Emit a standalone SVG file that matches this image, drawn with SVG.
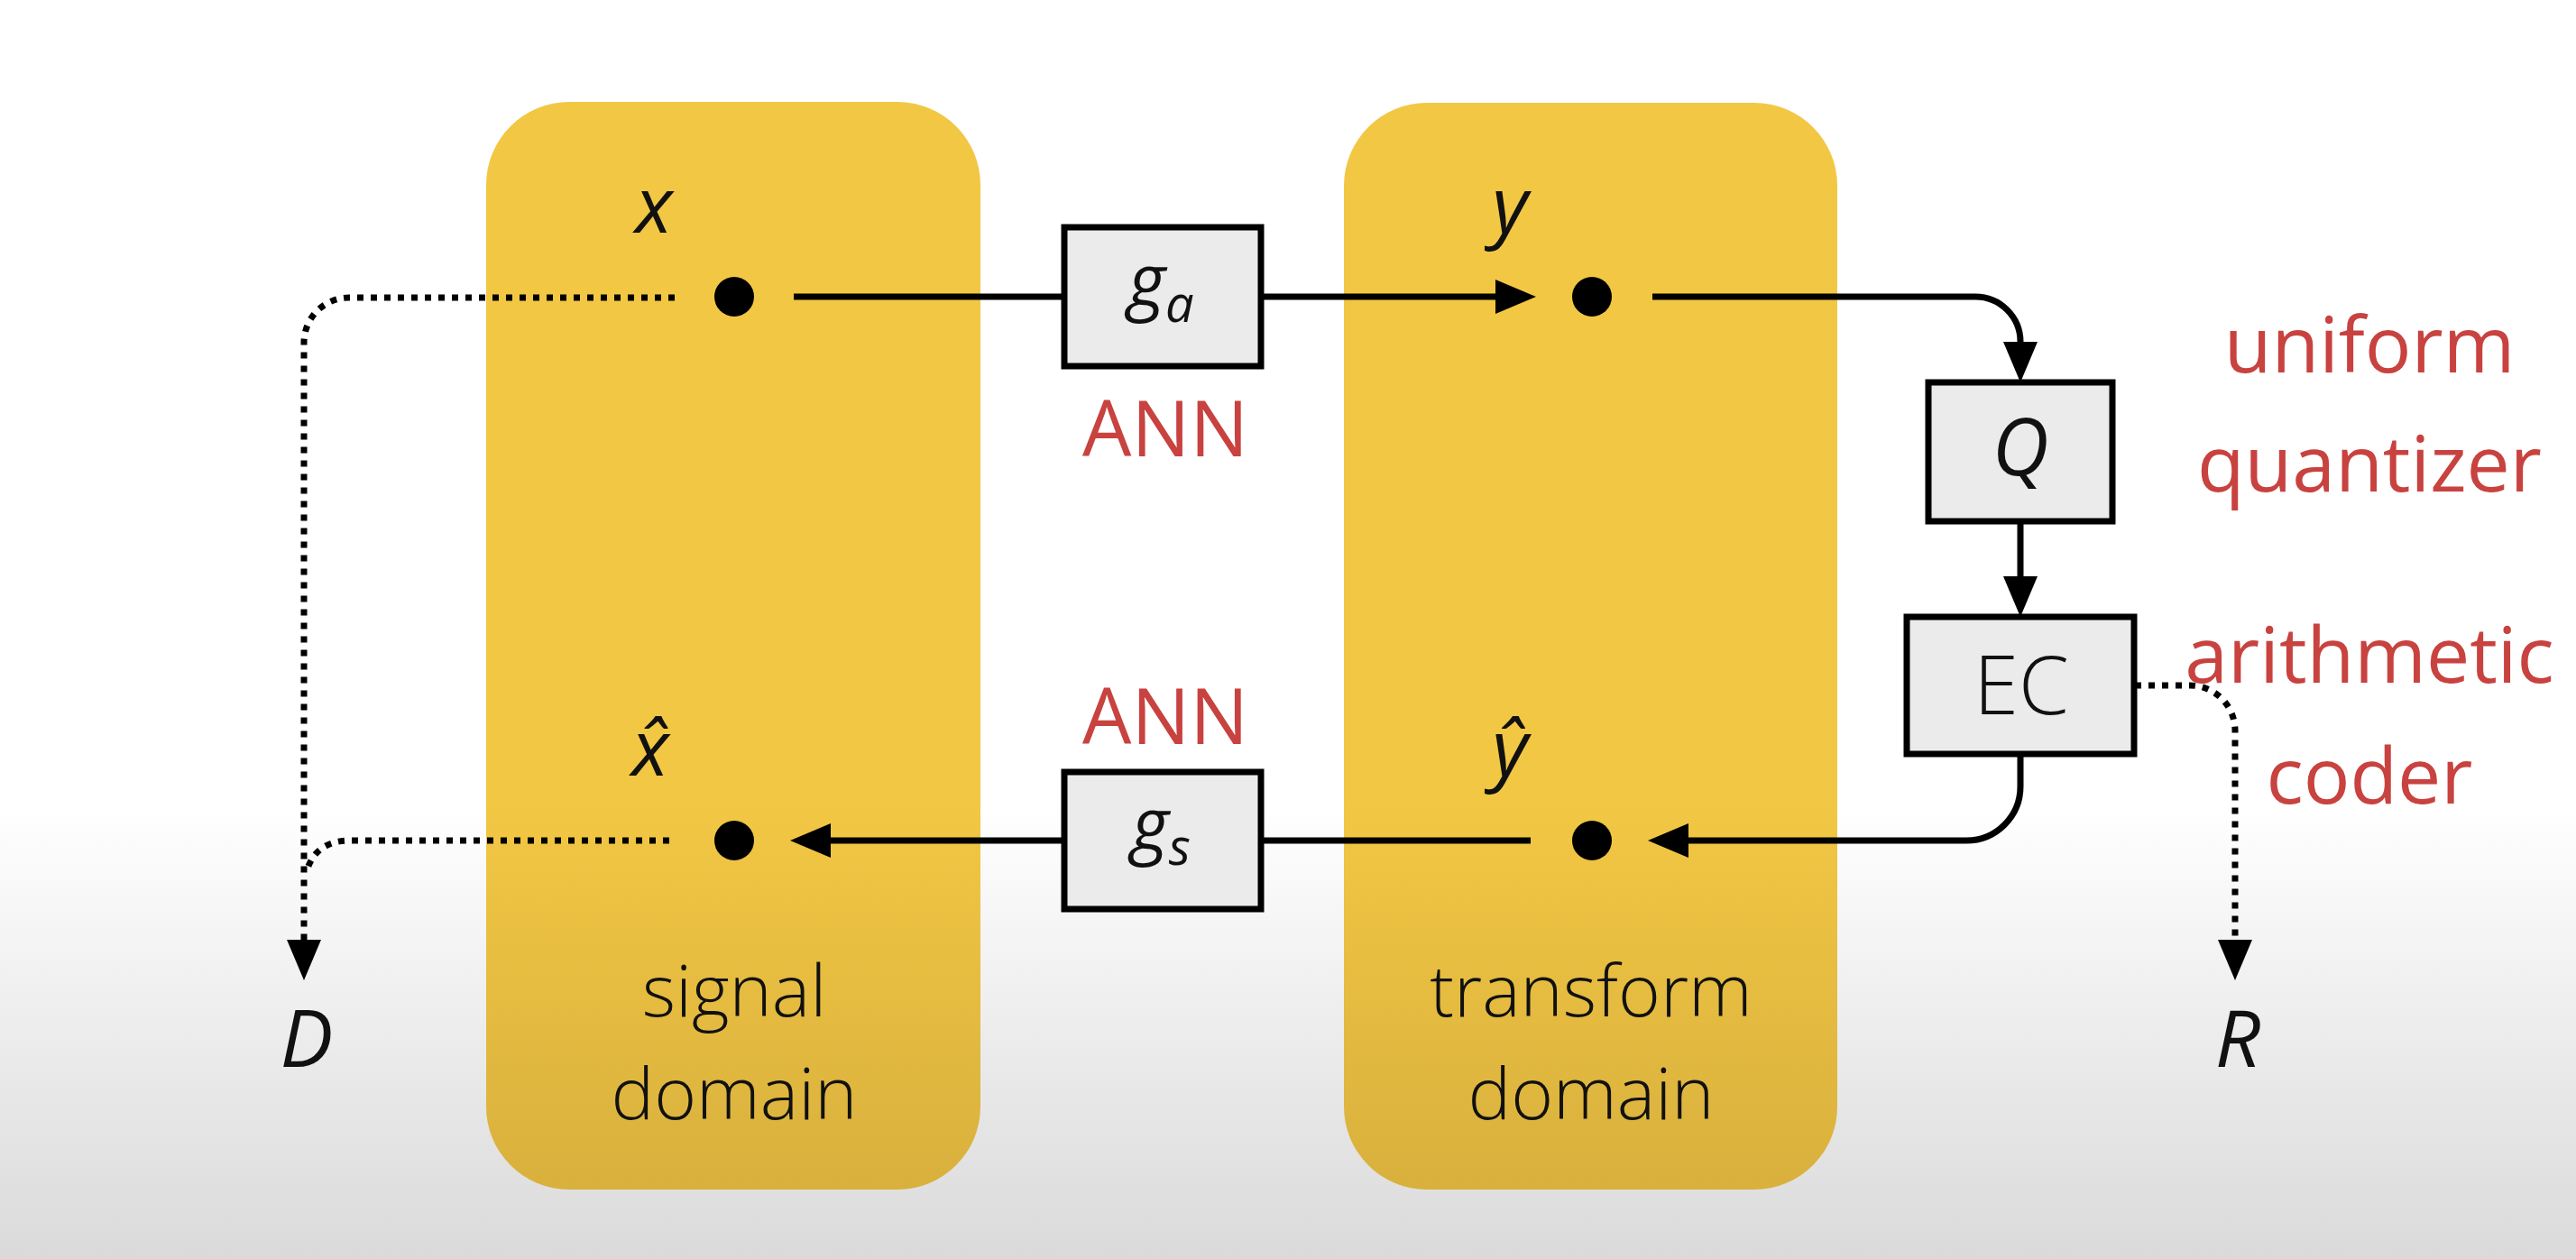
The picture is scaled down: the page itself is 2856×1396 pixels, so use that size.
<svg xmlns="http://www.w3.org/2000/svg" width="2856" height="1396" viewBox="0 0 2856 1396">
  <defs>
    <linearGradient id="bgGrad" gradientUnits="userSpaceOnUse" x1="0" y1="0" x2="0" y2="1396">
      <stop offset="0.64" stop-color="#FFFFFF"/>
      <stop offset="1" stop-color="#DADADA"/>
    </linearGradient>
    <linearGradient id="panelGrad" gradientUnits="userSpaceOnUse" x1="0" y1="0" x2="0" y2="1396">
      <stop offset="0.64" stop-color="#F2C744"/>
      <stop offset="1" stop-color="#D4AC3B"/>
    </linearGradient>
    <marker id="arrow" markerUnits="userSpaceOnUse" markerWidth="46" markerHeight="40" viewBox="0 0 46 40" refX="1" refY="20" orient="auto">
      <path d="M0,1 L45,20 L0,39 Z" fill="#000"/>
    </marker>
    <style>
      .panel { fill: url(#panelGrad); }
      .box { fill: #EBEBEB; stroke: #000; stroke-width: 7; }
      .dot { fill: #000; }
      .line { fill: none; stroke: #000; stroke-width: 7; }
      .dotted { fill: none; stroke: #000; stroke-width: 7; stroke-dasharray: 7 8; }
      .math { font-family: "Open Sans", "Noto Sans", "DejaVu Sans", sans-serif; font-style: italic; font-weight: 400; fill: #111; }
      .lbl { font-family: "Open Sans", "Noto Sans", "DejaVu Sans", sans-serif; font-weight: 300; fill: #111; font-size: 80px; text-anchor: middle; }
      .red { font-family: "Open Sans", "Noto Sans", "DejaVu Sans", sans-serif; fill: #C8423F; font-size: 86px; text-anchor: middle; }
    </style>
  </defs>

  <rect id="background" x="0" y="0" width="2856" height="1396" fill="url(#bgGrad)"/>

  <g id="signal-domain">
    <rect class="panel" x="539" y="113" width="548" height="1206" rx="92" ry="92"/>
    <text class="lbl" x="814" y="1127">signal</text>
    <text class="lbl" x="814" y="1241">domain</text>
  </g>

  <g id="transform-domain">
    <rect class="panel" x="1490" y="114" width="547" height="1205" rx="92" ry="92"/>
    <text class="lbl" x="1764" y="1127">transform</text>
    <text class="lbl" x="1764" y="1241">domain</text>
  </g>

  <g id="connectors">
    <path class="line" d="M880,329 H1180"/>
    <path class="line" d="M1398,329 H1659" marker-end="url(#arrow)"/>
    <path class="line" d="M1832,329 H2190 A50,50 0 0 1 2240,379 V380" marker-end="url(#arrow)"/>
    <path class="line" d="M2240,578 V640" marker-end="url(#arrow)"/>
    <path class="line" d="M2240,836 V872 A60,60 0 0 1 2180,932 H1871" marker-end="url(#arrow)"/>
    <path class="line" d="M1697,932 H1398"/>
    <path class="line" d="M1180,932 H920" marker-end="url(#arrow)"/>
    <path class="dotted" d="M748,330 H387 A50,50 0 0 0 337,380 V1043" marker-end="url(#arrow)"/>
    <path class="dotted" d="M742,932 H388 Q350,932 340,966"/>
    <path class="dotted" d="M2367,760 H2428 A50,50 0 0 1 2478,810 V1043" marker-end="url(#arrow)"/>
  </g>

  <g id="node-x">
    <circle class="dot" cx="814" cy="329" r="22"/>
    <text class="math" x="725" y="258" font-size="86" text-anchor="middle">x</text>
  </g>

  <g id="node-y">
    <circle class="dot" cx="1765" cy="329" r="22"/>
    <text class="math" x="1674" y="258" font-size="86" text-anchor="middle">y</text>
  </g>

  <g id="node-xhat">
    <circle class="dot" cx="814" cy="932" r="22"/>
    <text class="math" x="721" y="860" font-size="86" text-anchor="middle">x&#x302;</text>
  </g>

  <g id="node-yhat">
    <circle class="dot" cx="1765" cy="932" r="22"/>
    <text class="math" x="1674" y="860" font-size="86" text-anchor="middle">&#x177;</text>
  </g>

  <g id="node-ga">
    <rect class="box" x="1180" y="252" width="218" height="154"/>
    <text class="math" x="1287" y="340" font-size="80" font-weight="300" text-anchor="middle">g<tspan font-size="56" dy="17">a</tspan></text>
    <text class="red" x="1292" y="506" font-size="94">ANN</text>
  </g>

  <g id="node-gs">
    <rect class="box" x="1180" y="856" width="218" height="152"/>
    <text class="math" x="1287" y="943" font-size="80" font-weight="300" text-anchor="middle">g<tspan font-size="56" dy="16">s</tspan></text>
    <text class="red" x="1292" y="825" font-size="94">ANN</text>
  </g>

  <g id="node-Q">
    <rect class="box" x="2138" y="424" width="204" height="154"/>
    <text class="math" x="2240" y="527" font-size="87" font-weight="300" text-anchor="middle">Q</text>
    <text class="red" x="2627" y="413">uniform</text>
    <text class="red" x="2627" y="545">quantizer</text>
  </g>

  <g id="node-EC">
    <rect class="box" x="2114" y="684" width="252" height="152"/>
    <text x="2241" y="792" font-family="Open Sans, Noto Sans, DejaVu Sans, sans-serif" font-weight="300" font-size="90" fill="#111" text-anchor="middle">EC</text>
    <text class="red" x="2627" y="757">arithmetic</text>
    <text class="red" x="2627" y="891">coder</text>
  </g>

  <g id="node-D">
    <text class="math" x="340" y="1183" font-size="88" font-weight="300" text-anchor="middle">D</text>
  </g>

  <g id="node-R">
    <text class="math" x="2481" y="1183" font-size="88" font-weight="300" text-anchor="middle">R</text>
  </g>
</svg>
